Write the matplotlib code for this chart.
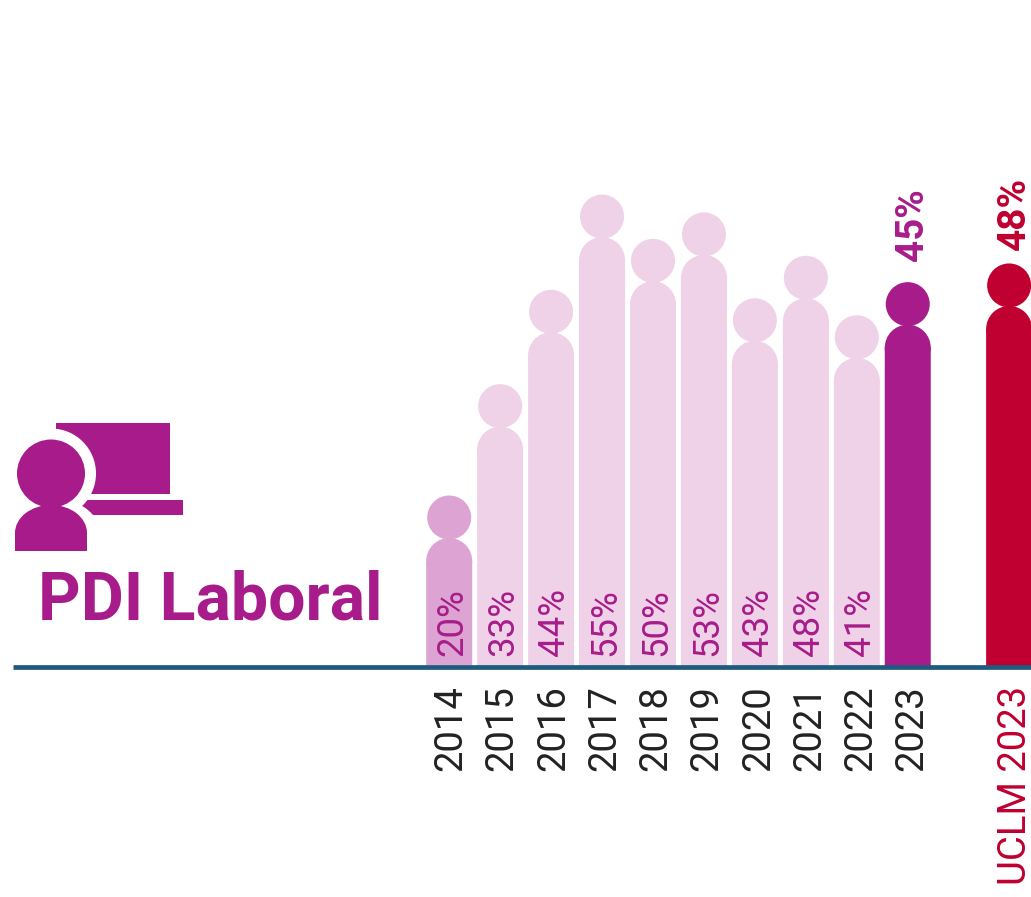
#!/usr/bin/env python3
import matplotlib
matplotlib.use("Agg")
import matplotlib.pyplot as plt
from matplotlib.patches import Circle, Ellipse, Rectangle
from matplotlib.transforms import ScaledTranslation

plt.rcParams['font.family'] = ['Roboto', 'DejaVu Sans']

# Data (heights are a bit finer than the printed labels)
years = ["2014", "2015", "2016", "2017", "2018", "2019", "2020", "2021", "2022", "2023"]
heights = [20.0, 33.1, 44.2, 55.4, 50.2, 53.3, 43.2, 48.2, 41.2, 45.1]
labels = ["20%", "33%", "44%", "55%", "50%", "53%", "43%", "48%", "41%", "45%"]
uclm_name = "UCLM 2023"
uclm_height = 47.3
uclm_label = "48%"
title = "PDI Laboral"

PURPLE = '#A71C8A'
LIGHT = '#EFD2E8'
MID = '#DDA4D3'
RED = '#BF0030'
AXIS = '#1F5A7F'

W, H = 1031, 897
fig = plt.figure(figsize=(W / 100, H / 100), dpi=100)

# axes spans from the left end of the baseline to the top of the picture
base_px = 666.7
ax = fig.add_axes([13 / W, 1 - base_px / H, (W - 13) / W, base_px / H])

# one slot is about 51 px wide, one percent is 8.5 px tall
sx, sy = 50.95, 8.5
x0_px = 449.2
ax.set_xlim((13 - x0_px) / sx, (W - x0_px) / sx)
ax.set_ylim((708 - base_px) / sy, 708 / sy)
y0 = ax.get_ylim()[0]


def person(x, v, color):
    # body with a round top, then the head sitting on it
    r = 23 / sy
    ax.bar(x, v - r - y0, bottom=y0, width=46 / sx, color=color, linewidth=0, snap=False)
    ax.add_patch(Ellipse((x, v - r), 46 / sx, 2 * r, color=color, linewidth=0))
    ax.add_patch(Ellipse((x, v + 20.5 / sy), 44 / sx, 44 / sy, color=color, linewidth=0))


xs = list(range(len(years)))
uclm_x = 10.99

for x, v, year in zip(xs, heights, years):
    if year == "2023":
        c = PURPLE
    elif year == "2014":
        c = MID
    else:
        c = LIGHT
    person(x, v, c)
person(uclm_x, uclm_height, RED)

# percentages inside the bars
for x, lab in zip(xs[:-1], labels[:-1]):
    ax.annotate(lab, (x, y0), xytext=(2.2, 8), textcoords='offset points', rotation=90,
                ha='center', va='bottom', fontsize=26.4, color=PURPLE)

# bold percentages above the heads
ax.annotate(labels[-1], (xs[-1], heights[-1]), xytext=(3.5, 46), textcoords='offset points',
            rotation=90, ha='center', va='bottom', fontsize=27.8, fontweight='bold', color=PURPLE)
ax.annotate(uclm_label, (uclm_x, uclm_height), xytext=(4, 40), textcoords='offset points',
            rotation=90, ha='center', va='bottom', fontsize=28, fontweight='bold', color=RED)

ax.set_xticks(xs + [uclm_x])
ax.set_xticklabels(years + [uclm_name], rotation=90, fontsize=27.5, color='#222222')
ax.tick_params(axis='x', length=0, pad=13.5)
ax.set_yticks([])

# year labels drift slightly to the right of their bars
tick_labels = ax.get_xticklabels()
for i, t in enumerate(tick_labels):
    dx = 1.2 + i * 0.22 if i < len(years) else 4.5
    t.set_transform(t.get_transform() + ScaledTranslation(dx / 72, 0, fig.dpi_scale_trans))
tick_labels[-1].set_color(RED)

for s in ['top', 'right', 'left']:
    ax.spines[s].set_visible(False)
ax.spines['bottom'].set_color(AXIS)
ax.spines['bottom'].set_linewidth(3.4)
ax.spines['bottom'].set_capstyle('butt')
ax.patch.set_visible(False)

# icon and title on an overlay in pixel coordinates
ov = fig.add_axes([0, 0, 1, 1], zorder=5)
ov.set_xlim(0, W)
ov.set_ylim(H, 0)
ov.axis('off')

ov.add_patch(Rectangle((56, 423.5), 114, 70.5, color=PURPLE, linewidth=0))
ov.add_patch(Rectangle((80, 500), 102.5, 15, color=PURPLE, linewidth=0))
ov.add_patch(Circle((51, 473.5), 45, color='white', linewidth=0))
ov.add_patch(Ellipse((51, 533), 98, 70, color='white', linewidth=0))
ov.add_patch(Circle((51, 473.5), 34, color=PURPLE, linewidth=0))
ov.add_patch(Ellipse((51, 533), 72, 56, color=PURPLE, linewidth=0))
ov.add_patch(Rectangle((15, 533), 72, 18, color=PURPLE, linewidth=0))
# cut the rounded body off flat at its foot
ov.add_patch(Rectangle((10, 551), 90, 18, color='white', linewidth=0))
ov.text(38, 619, title, fontsize=47.6, fontweight='bold', color=PURPLE, ha='left', va='baseline')

fig.savefig("out.png", dpi=100)
